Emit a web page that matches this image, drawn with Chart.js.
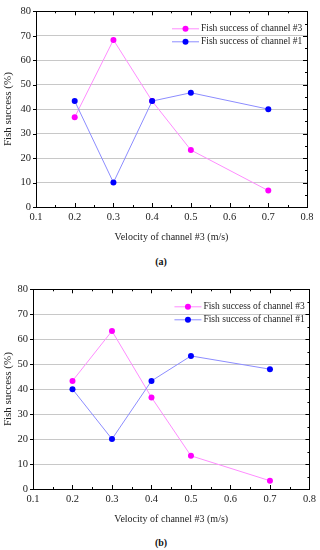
<!DOCTYPE html>
<html>
<head>
<meta charset="utf-8">
<script src="https://cdn.jsdelivr.net/npm/chart.js@4"></script>
<style>
  body { margin: 0; background: #fff; width: 320px; height: 550px; position: relative; overflow: hidden; font-family: "Liberation Serif", serif; }
  canvas { position: absolute; left: 0; }
  .cap { position: absolute; left: 0; width: 322px; text-align: center; font: bold 10px "Liberation Serif", serif; color: #111; }
</style>
</head>
<body>
<canvas id="chartA" width="320" height="247" style="top:0px"></canvas>
<div class="cap" style="top:256px">(a)</div>
<canvas id="chartB" width="320" height="251" style="top:278px"></canvas>
<div class="cap" style="top:537px">(b)</div>
<script>
// velocities (m/s)
const velocity = [0.2, 0.3, 0.4, 0.5, 0.7];
const seriesLabels = ['Fish success of channel #3', 'Fish success of channel #1'];

// (a)
const ch3A = [36.7, 68.3, 43.3, 23.3, 6.7];
const ch1A = [43.3, 10, 43.3, 46.7, 40];
// (b)
const ch3B = [43.3, 63.3, 36.7, 13.3, 3.3];
const ch1B = [40, 20, 43.3, 53.3, 48];

const xTitle = 'Velocity of channel #3 (m/s)';
const yTitle = 'Fish success (%)';

const serif = '"Liberation Serif", serif';

// box around plot + inward ticks + legend inside the plot
const framePlugin = {
    id: 'frame',
    afterDraw(chart) {
        const ctx = chart.ctx;
        const a = chart.chartArea;
        const xs = chart.scales.x, ys = chart.scales.y;
        ctx.save();
        ctx.strokeStyle = '#000';
        ctx.lineWidth = 1;
        ctx.strokeRect(Math.round(a.left) + 0.5, Math.round(a.top) + 0.5,
            Math.round(a.right - a.left), Math.round(a.bottom - a.top));
        ctx.beginPath();
        for (let v = 0.1; v <= 0.801; v += 0.05) {
            const px = Math.round(xs.getPixelForValue(v)) + 0.5;
            const major = Math.abs(v * 10 - Math.round(v * 10)) < 0.01;
            const len = major ? 4 : 2;
            ctx.moveTo(px, a.bottom); ctx.lineTo(px, a.bottom - len);
            ctx.moveTo(px, a.top); ctx.lineTo(px, a.top + len);
        }
        for (let v = 0; v <= 80; v += 5) {
            const py = Math.round(ys.getPixelForValue(v)) + 0.5;
            const major = v % 10 === 0;
            if (major) { ctx.moveTo(a.left - 3, py); ctx.lineTo(a.left, py); }
            ctx.moveTo(a.right, py); ctx.lineTo(a.right - (major ? 4 : 2), py);
        }
        ctx.stroke();

        // legend, channel #3 first
        ctx.font = '9.5px ' + serif;
        ctx.textBaseline = 'middle';
        chart.data.datasets.forEach((ds, row) => {
            const y = a.top + 17.5 + row * 13;
            const x0 = a.right - 135, x1 = a.right - 108;
            ctx.strokeStyle = ds.borderColor;
            ctx.beginPath(); ctx.moveTo(x0, y); ctx.lineTo(x1, y); ctx.stroke();
            ctx.fillStyle = ds.pointBackgroundColor;
            ctx.beginPath(); ctx.arc((x0 + x1) / 2, y, 3, 0, Math.PI * 2); ctx.fill();
            ctx.fillStyle = '#222';
            ctx.fillText(ds.label, a.right - 106, y);
        });
        ctx.restore();
    }
};

function makeChart(id, ch3, ch1, yWidth, padRight) {
    const ctx = document.getElementById(id).getContext('2d');
    return new Chart(ctx, {
        type: 'line',
        data: {
            datasets: [
                {
                    label: seriesLabels[0],
                    data: velocity.map((v, i) => ({ x: v, y: ch3[i] })),
                    borderColor: '#ff8cff',
                    pointBackgroundColor: '#ff00ff',
                    order: 2
                },
                {
                    label: seriesLabels[1],
                    data: velocity.map((v, i) => ({ x: v, y: ch1[i] })),
                    borderColor: '#8c8cff',
                    pointBackgroundColor: '#0000ff',
                    order: 1
                }
            ]
        },
        options: {
            responsive: false,
            animation: false,
            layout: { padding: { top: 8, right: padRight, left: 0, bottom: 0 } },
            elements: {
                line: { borderWidth: 1, tension: 0 },
                point: { radius: 3, borderWidth: 0, hoverRadius: 3 }
            },
            plugins: { legend: { display: false }, tooltip: { enabled: false } },
            scales: {
                x: {
                    type: 'linear',
                    min: 0.1, max: 0.8,
                    afterFit: s => { s.height = 40; },
                    ticks: {
                        stepSize: 0.1,
                        padding: 4,
                        color: '#222',
                        font: { family: serif, size: 10.5 },
                        callback: v => v.toFixed(1)
                    },
                    grid: { display: false, drawTicks: false },
                    border: { display: true, color: '#000' },
                    title: {
                        display: true,
                        text: xTitle,
                        color: '#222',
                        font: { family: serif, size: 10 },
                        padding: { top: 0, bottom: 4 }
                    }
                },
                y: {
                    min: 0, max: 80,
                    afterFit: s => { s.width = yWidth; },
                    ticks: {
                        stepSize: 10,
                        padding: 5,
                        color: '#222',
                        font: { family: serif, size: 10.5 }
                    },
                    grid: { color: '#c8c8c8', lineWidth: 1, drawTicks: false },
                    border: { display: true, color: '#000' },
                    title: {
                        display: true,
                        text: yTitle,
                        color: '#222',
                        font: { family: serif, size: 11 },
                        padding: { top: 1.5, bottom: 0 }
                    }
                }
            }
        },
        plugins: [framePlugin]
    });
}

function build() {
    makeChart('chartA', ch3A, ch1A, 36, 13);
    makeChart('chartB', ch3B, ch1B, 33, 9);
}

if (document.fonts && document.fonts.load) {
    Promise.all([
        document.fonts.load('10px "Liberation Serif"'),
        document.fonts.load('bold 10px "Liberation Serif"')
    ]).then(build, build);
} else {
    build();
}
</script>
</body>
</html>
